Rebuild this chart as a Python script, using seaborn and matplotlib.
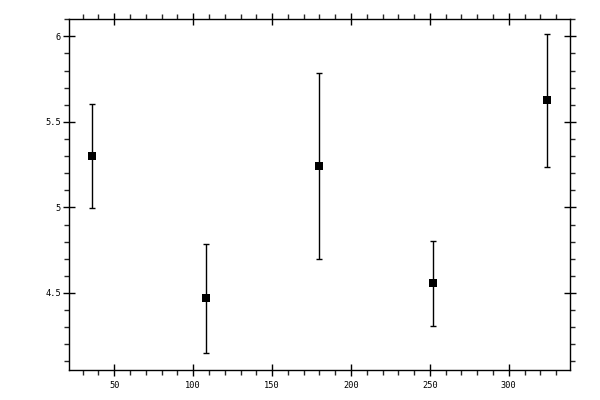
import matplotlib
matplotlib.use("Agg")
import matplotlib.pyplot as plt
from matplotlib.ticker import MultipleLocator
import seaborn as sns
import pandas as pd

x_vals = [36, 108, 180, 252, 324]
y_vals = [5.30, 4.469, 5.242, 4.557, 5.625]
y_err = [0.305, 0.318, 0.542, 0.247, 0.386]
x_ticks = [50, 100, 150, 200, 250, 300]
y_ticks = [4.5, 5, 5.5, 6]
y_tick_labels = ["4.5", "5", "5.5", "6"]

sns.set_style("white")
plt.rcParams['font.family'] = ['DejaVu Sans Mono']

df = pd.DataFrame({"x": x_vals, "y": y_vals, "err": y_err})

fig = plt.figure(figsize=(6, 4), dpi=100)
ax = fig.add_axes([0.1155, 0.075, 0.835, 0.877])

ax.errorbar(df["x"], df["y"], yerr=df["err"], fmt="none", ecolor="black",
            elinewidth=1.0, capsize=2.3, capthick=1.0, zorder=2)
sns.scatterplot(data=df, x="x", y="y", marker="s", s=28, color="black",
                edgecolor="black", linewidth=0, ax=ax, zorder=3)

ax.set_xlim(21.5, 339)
ax.set_ylim(4.05, 6.10)
ax.set_xticks(x_ticks)
ax.set_xticklabels([str(t) for t in x_ticks])
ax.set_yticks(y_ticks)
ax.set_yticklabels(y_tick_labels)
ax.xaxis.set_minor_locator(MultipleLocator(10))
ax.yaxis.set_minor_locator(MultipleLocator(0.1))
ax.set_xlabel("")
ax.set_ylabel("")

for s in ax.spines.values():
    s.set_visible(True)
    s.set_color("black")
    s.set_linewidth(1.0)

ax.tick_params(which="major", direction="inout", length=8, width=1.0,
               top=True, right=True, bottom=True, left=True,
               labelsize=6.2, colors="black", pad=2)
ax.tick_params(which="minor", direction="out", length=3.5, width=1.0,
               top=True, right=True, bottom=True, left=True)
ax.tick_params(axis="x", which="major", pad=4)

fig.savefig("out.png", dpi=100, facecolor="white")
